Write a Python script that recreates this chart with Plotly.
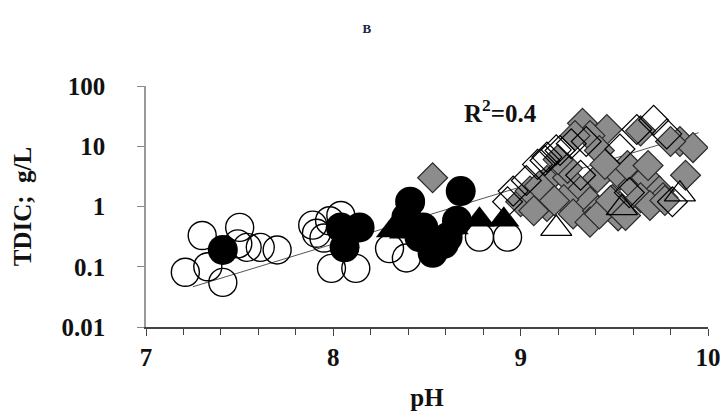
import numpy as np
import plotly.graph_objects as go

# ---- data (pH, TDIC g/L) ----
oc_ph = [7.21, 7.30, 7.50, 7.41, 7.54, 7.61, 7.70, 7.49, 7.33,
         7.89, 7.91, 7.98, 7.99, 8.12, 8.04, 7.95,
         8.39, 8.78, 8.93, 8.30]
oc_y = [0.081, 0.33, 0.45, 0.055, 0.21, 0.21, 0.19, 0.24, 0.10,
        0.49, 0.36, 0.58, 0.094, 0.094, 0.71, 0.30,
        0.14, 0.31, 0.31, 0.2]

fc_ph = [7.41, 8.04, 8.06, 8.14, 8.41, 8.68, 8.46, 8.59, 8.66, 8.53, 8.39, 8.61, 8.48]
fc_y = [0.19, 0.45, 0.21, 0.45, 1.2, 1.8, 0.31, 0.24, 0.58, 0.17, 0.66, 0.31, 0.45]

ft_ph = [8.31, 8.38, 8.64, 8.78, 8.91]
ft_y = [0.40, 0.38, 0.45, 0.60, 0.60]

gd_ph = [9.33, 9.46, 9.37, 9.85, 9.92, 9.80, 8.53, 9.00, 9.05, 9.14, 9.25, 9.32,
         9.41, 9.53, 9.60, 9.67, 9.74, 9.49, 9.37, 9.23, 9.14, 9.28, 9.41, 9.53,
         9.64, 9.37, 9.52, 9.42, 9.25, 9.57, 9.68, 9.07, 9.76,
         9.10, 9.18, 9.48, 9.56, 9.69, 9.77, 9.88, 9.42, 9.29, 9.64, 9.20, 9.45]
gd_y = [24, 19, 15, 12, 9.5, 12, 3.0, 1.2, 1.8, 2.7, 3.0, 1.8,
        3.0, 3.3, 2.2, 3.0, 1.8, 1.3, 1.2, 1.3, 1.0, 0.75, 0.85, 1.0,
        1.4, 0.55, 0.7, 0.75, 4.3, 4.8, 4.8, 0.85, 1.4,
        2.2, 1.25, 1.25, 0.71, 1.04, 1.26, 3.3, 8.5, 15, 18, 6.0, 5.0]

od_ph = [9.71, 9.78, 9.62, 9.14, 9.09, 9.19, 8.96, 8.93, 9.35, 9.53, 9.81, 9.58,
         9.32, 9.03, 9.13, 9.21, 9.27]
od_y = [27, 16, 19, 6.6, 5.0, 8.7, 1.8, 1.2, 12, 9, 1.2, 1.7,
        3.3, 2.7, 5.8, 8.5, 11]

ot_ph = [9.19, 9.85, 9.54]
ot_y = [0.43, 1.6, 0.95]

# regression line of log10(TDIC) on pH, as drawn in the picture
trend_ph = [7.25, 9.95]
trend_slope = 0.947
trend_intercept = -8.198

r2_text = "R<sup>2</sup>=0.4"
y_ticks = [0.01, 0.1, 1, 10, 100]
y_ticktext = ["0.01", "0.1", "1", "10", "100"]
x_ticks = [7, 8, 9, 10]

FONT = "Liberation Serif"

fig = go.Figure()

tx = np.array(trend_ph)
fig.add_trace(go.Scatter(x=tx, y=10 ** (trend_intercept + trend_slope * tx), mode="lines",
                         line=dict(color="#555555", width=1), hoverinfo="skip"))

def add(xs, ys, symbol, size, color, lw=1.4, lc="black"):
    fig.add_trace(go.Scatter(x=xs, y=ys, mode="markers",
                             marker=dict(symbol=symbol, size=size, color=color,
                                         line=dict(color=lc, width=lw))))

add(oc_ph, oc_y, "circle-open", 28, "black")
add(fc_ph, fc_y, "circle", 30, "black", lw=0)
add(ft_ph, ft_y, "triangle-up", 27, "black", lw=0)
add(gd_ph, gd_y, "diamond", 23, "#8c8c8c", lw=1.2, lc="#2a2a2a")
add(od_ph, od_y, "diamond-open", 23, "black", lw=1.2)
add(ot_ph, ot_y, "triangle-up-open", 27, "black", lw=1.3)

fig.add_annotation(x=8.89, y=1.58, xref="x", yref="y", text=r2_text,
                   showarrow=False,
                   font=dict(family=FONT, size=25, color="#111", weight="bold"),
                   xanchor="center", yanchor="middle")

fig.update_layout(
    width=722, height=414,
    margin=dict(l=146, r=14, t=86, b=87),
    paper_bgcolor="white", plot_bgcolor="white",
    showlegend=False,
    title=dict(text="B", x=0.508, xanchor="center", y=0.932, yanchor="middle",
               font=dict(family=FONT, size=13, color="#222244", weight="bold")),
    font=dict(family=FONT, color="black"),
)
fig.update_xaxes(range=[7, 10], tickvals=x_ticks, ticks="outside", ticklen=7,
                 tickcolor="#444", showline=True, linecolor="#444", linewidth=1.5,
                 showgrid=False, zeroline=False, automargin=False,
                 minor=dict(dtick=0.2, ticks="outside", ticklen=6, tickcolor="#444"),
                 tickfont=dict(family=FONT, size=25, color="#111", weight="bold"),
                 ticklabelstandoff=0,
                 title=dict(text="pH", font=dict(family=FONT, size=25, color="#111", weight="bold"),
                            standoff=19))
fig.update_yaxes(type="log", range=[-2, 2], tickvals=y_ticks, ticktext=y_ticktext,
                 ticks="outside", ticklen=7, tickcolor="#888",
                 showline=True, linecolor="#999", linewidth=1.5,
                 showgrid=False, zeroline=False, automargin=False,
                 tickfont=dict(family=FONT, size=25, color="#111", weight="bold"),
                 ticklabelstandoff=27,
                 title=dict(text="TDIC;  g/L", font=dict(family=FONT, size=25, color="#111", weight="bold"),
                            standoff=23))

# remove the default page margin so the 722x414 figure fills the window exactly
fig.write_html("out.html",
               config={"displayModeBar": False},
               post_script="document.body.style.margin='0';"
                           "document.documentElement.style.overflow='hidden';"
                           "document.body.style.overflow='hidden';")
